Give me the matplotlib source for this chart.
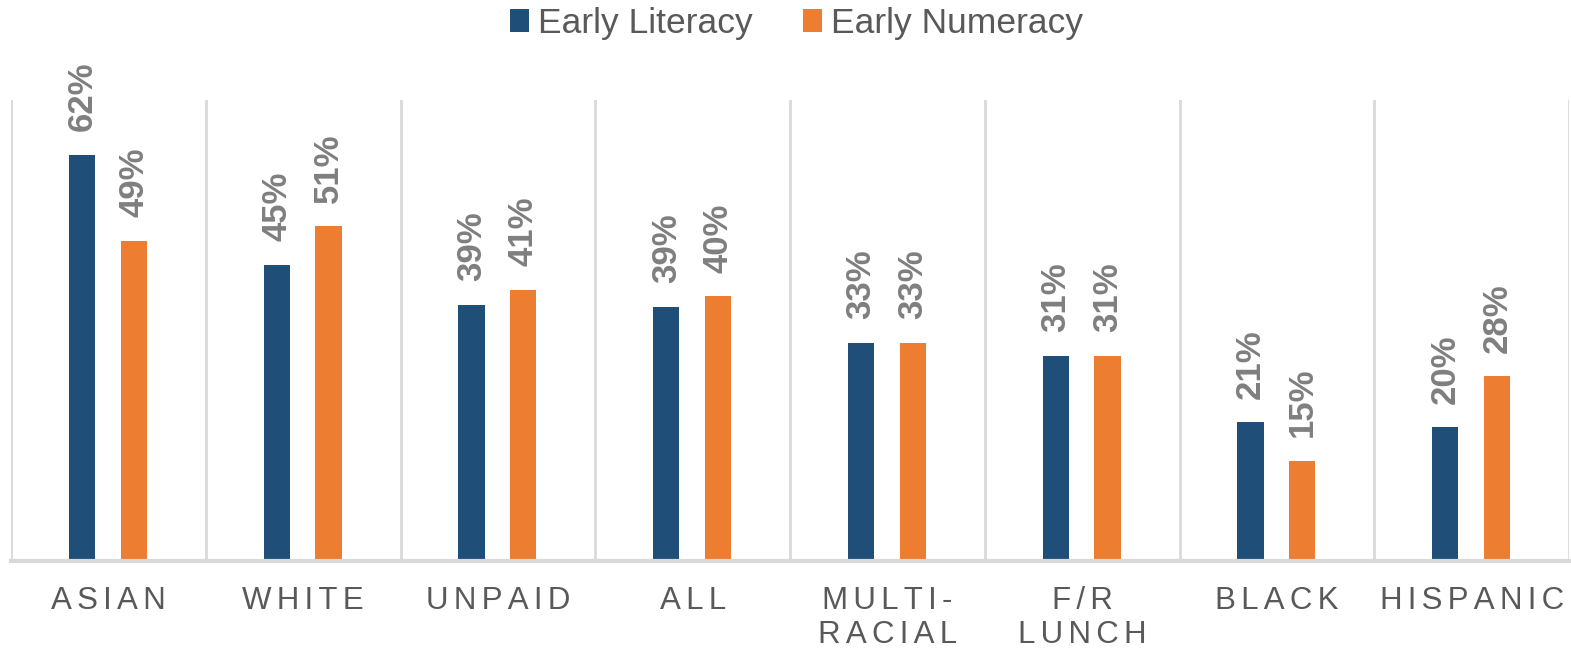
import numpy as np
import matplotlib
matplotlib.use('Agg')
import matplotlib.pyplot as plt

groups = ['ASIAN', 'WHITE', 'UNPAID', 'ALL', 'MULTI-\nRACIAL', 'F/R\nLUNCH', 'BLACK', 'HISPANIC']
literacy = [62.0, 45.2, 39.1, 38.8, 33.3, 31.3, 21.2, 20.4]
numeracy = [48.9, 51.1, 41.4, 40.4, 33.3, 31.3, 15.3, 28.2]
series_names = ['Early Literacy', 'Early Numeracy']

blue = '#1f4e79'
orange = '#ed7d31'
grid_c = '#d9d9d9'

plt.rcParams['font.family'] = ['Liberation Sans', 'DejaVu Sans']

fig = plt.figure(figsize=(15.71, 6.52), dpi=100)
ax = fig.add_axes([11/1571, 91/652, 1558/1571, 461/652])

x = np.arange(len(groups))
w = 0.135
b1 = ax.bar(x - 0.135, literacy, w, color=blue, label=series_names[0])
b2 = ax.bar(x + 0.13, numeracy, w, color=orange, label=series_names[1])

for bars, vals in [(b1, literacy), (b2, numeracy)]:
    for r, v in zip(bars, vals):
        ax.annotate('%d%%' % round(v), (r.get_x() + r.get_width()/2, v),
                    xytext=(0, 17), textcoords='offset points',
                    rotation=90, ha='center', va='bottom',
                    fontsize=25, fontweight='bold', color='#7f7f7f')

ax.set_xlim(-0.5, len(groups) - 0.5)
ax.set_ylim(0, 70.4)
for s in range(len(groups) + 1):
    ax.axvline(s - 0.5, color=grid_c, lw=2, zorder=0)
for sp in ['top', 'right', 'left']:
    ax.spines[sp].set_visible(False)
ax.spines['bottom'].set_color(grid_c)
ax.spines['bottom'].set_linewidth(3)
ax.set_yticks([])

# letter-spaced category names (six-per-em space between letters)
def spaced(t):
    return '\n'.join('\u2006'.join(line) for line in t.split('\n'))

ax.set_xticks(x)
ax.set_xticklabels([spaced(g) for g in groups], fontsize=22.5, color='#595959',
                   linespacing=1.19, va='top')
ax.tick_params(axis='x', length=0, pad=18)

fig.legend(handles=[b1, b2], loc='center', bbox_to_anchor=(0.507, 1 - 23/652),
           ncol=2, frameon=False, fontsize=25.5, labelcolor='#595959',
           handlelength=0.54, handleheight=0.62, handletextpad=0.25,
           columnspacing=1.44)

fig.savefig('out.png', dpi=100)
